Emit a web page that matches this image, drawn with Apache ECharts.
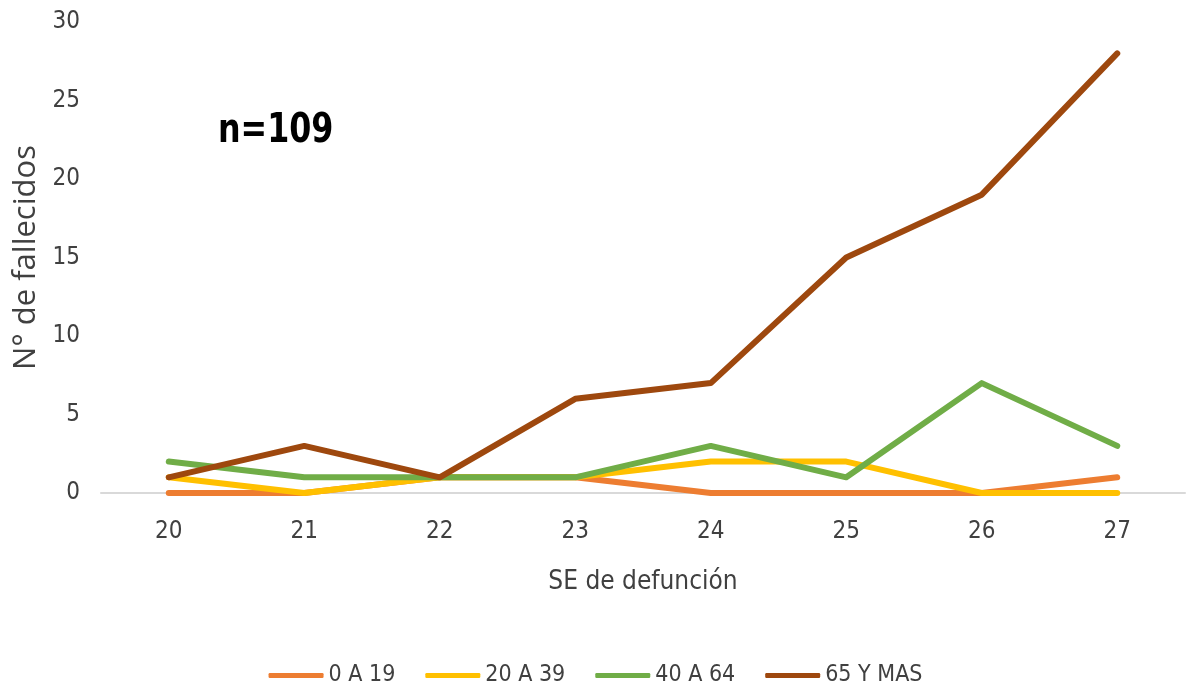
<!DOCTYPE html>
<html><head><meta charset="utf-8">
<script src="https://cdn.jsdelivr.net/npm/echarts@6/dist/echarts.min.js"></script>
<style>html,body{margin:0;padding:0;background:#fff}#c{width:1191px;height:686px}</style>
</head><body><div id="c"></div>
<script>
const categories = ['20','21','22','23','24','25','26','27'];
const s0a19 = [0,0,1,1,0,0,0,1];
const s20a39 = [1,0,1,1,2,2,0,0];
const s40a64 = [2,1,1,1,3,1,7,3];
const s65ymas = [1,3,1,6,7,15,19,28];
const seriesNames = ['0 A 19','20 A 39','40 A 64','65 Y MAS'];
const colors = ['#ED7D31','#FFC000','#70AD47','#9E480E'];
const values = [s0a19, s20a39, s40a64, s65ymas];
const cond = '"DejaVu Sans Condensed","Liberation Sans Narrow",sans-serif';
const chart = echarts.init(document.getElementById('c'));
chart.setOption({
  animation:false,
  color: colors,
  grid:{left:101,right:6,top:22,bottom:193},
  graphic:[{type:'text',x:218,y:111,scaleX:0.86,style:{text:'n=109',font:'bold 41px '+cond,fill:'#000'}}],
  legend:{top:659,left:'center',itemWidth:55,itemHeight:5,itemGap:30,icon:'roundRect',
    textStyle:{fontFamily:cond,fontSize:23,color:'#404040'},
    data:seriesNames},
  xAxis:{type:'category',data:categories,boundaryGap:true,
    axisLine:{lineStyle:{color:'#d9d9d9',width:2}},axisTick:{show:false},
    axisLabel:{fontFamily:cond,fontSize:24,color:'#404040',margin:27},
    name:'SE de defunción',nameLocation:'middle',nameGap:76,
    nameTextStyle:{fontFamily:cond,fontSize:26,color:'#404040'}},
  yAxis:{type:'value',min:0,max:30,interval:5,splitLine:{show:false},
    axisLine:{show:false},axisTick:{show:false},
    axisLabel:{fontFamily:cond,fontSize:24,color:'#404040',margin:21},
    name:'N° de fallecidos',nameLocation:'middle',nameGap:51,
    nameTextStyle:{fontFamily:'"Open Sans","DejaVu Sans",sans-serif',fontSize:31,color:'#404040'}},
  series: values.map((v,i)=>({name:seriesNames[i],type:'line',data:v,showSymbol:false,symbol:'none',
    lineStyle:{width:6,color:colors[i],cap:'round',join:'round'},itemStyle:{color:colors[i]}}))
});
</script></body></html>
